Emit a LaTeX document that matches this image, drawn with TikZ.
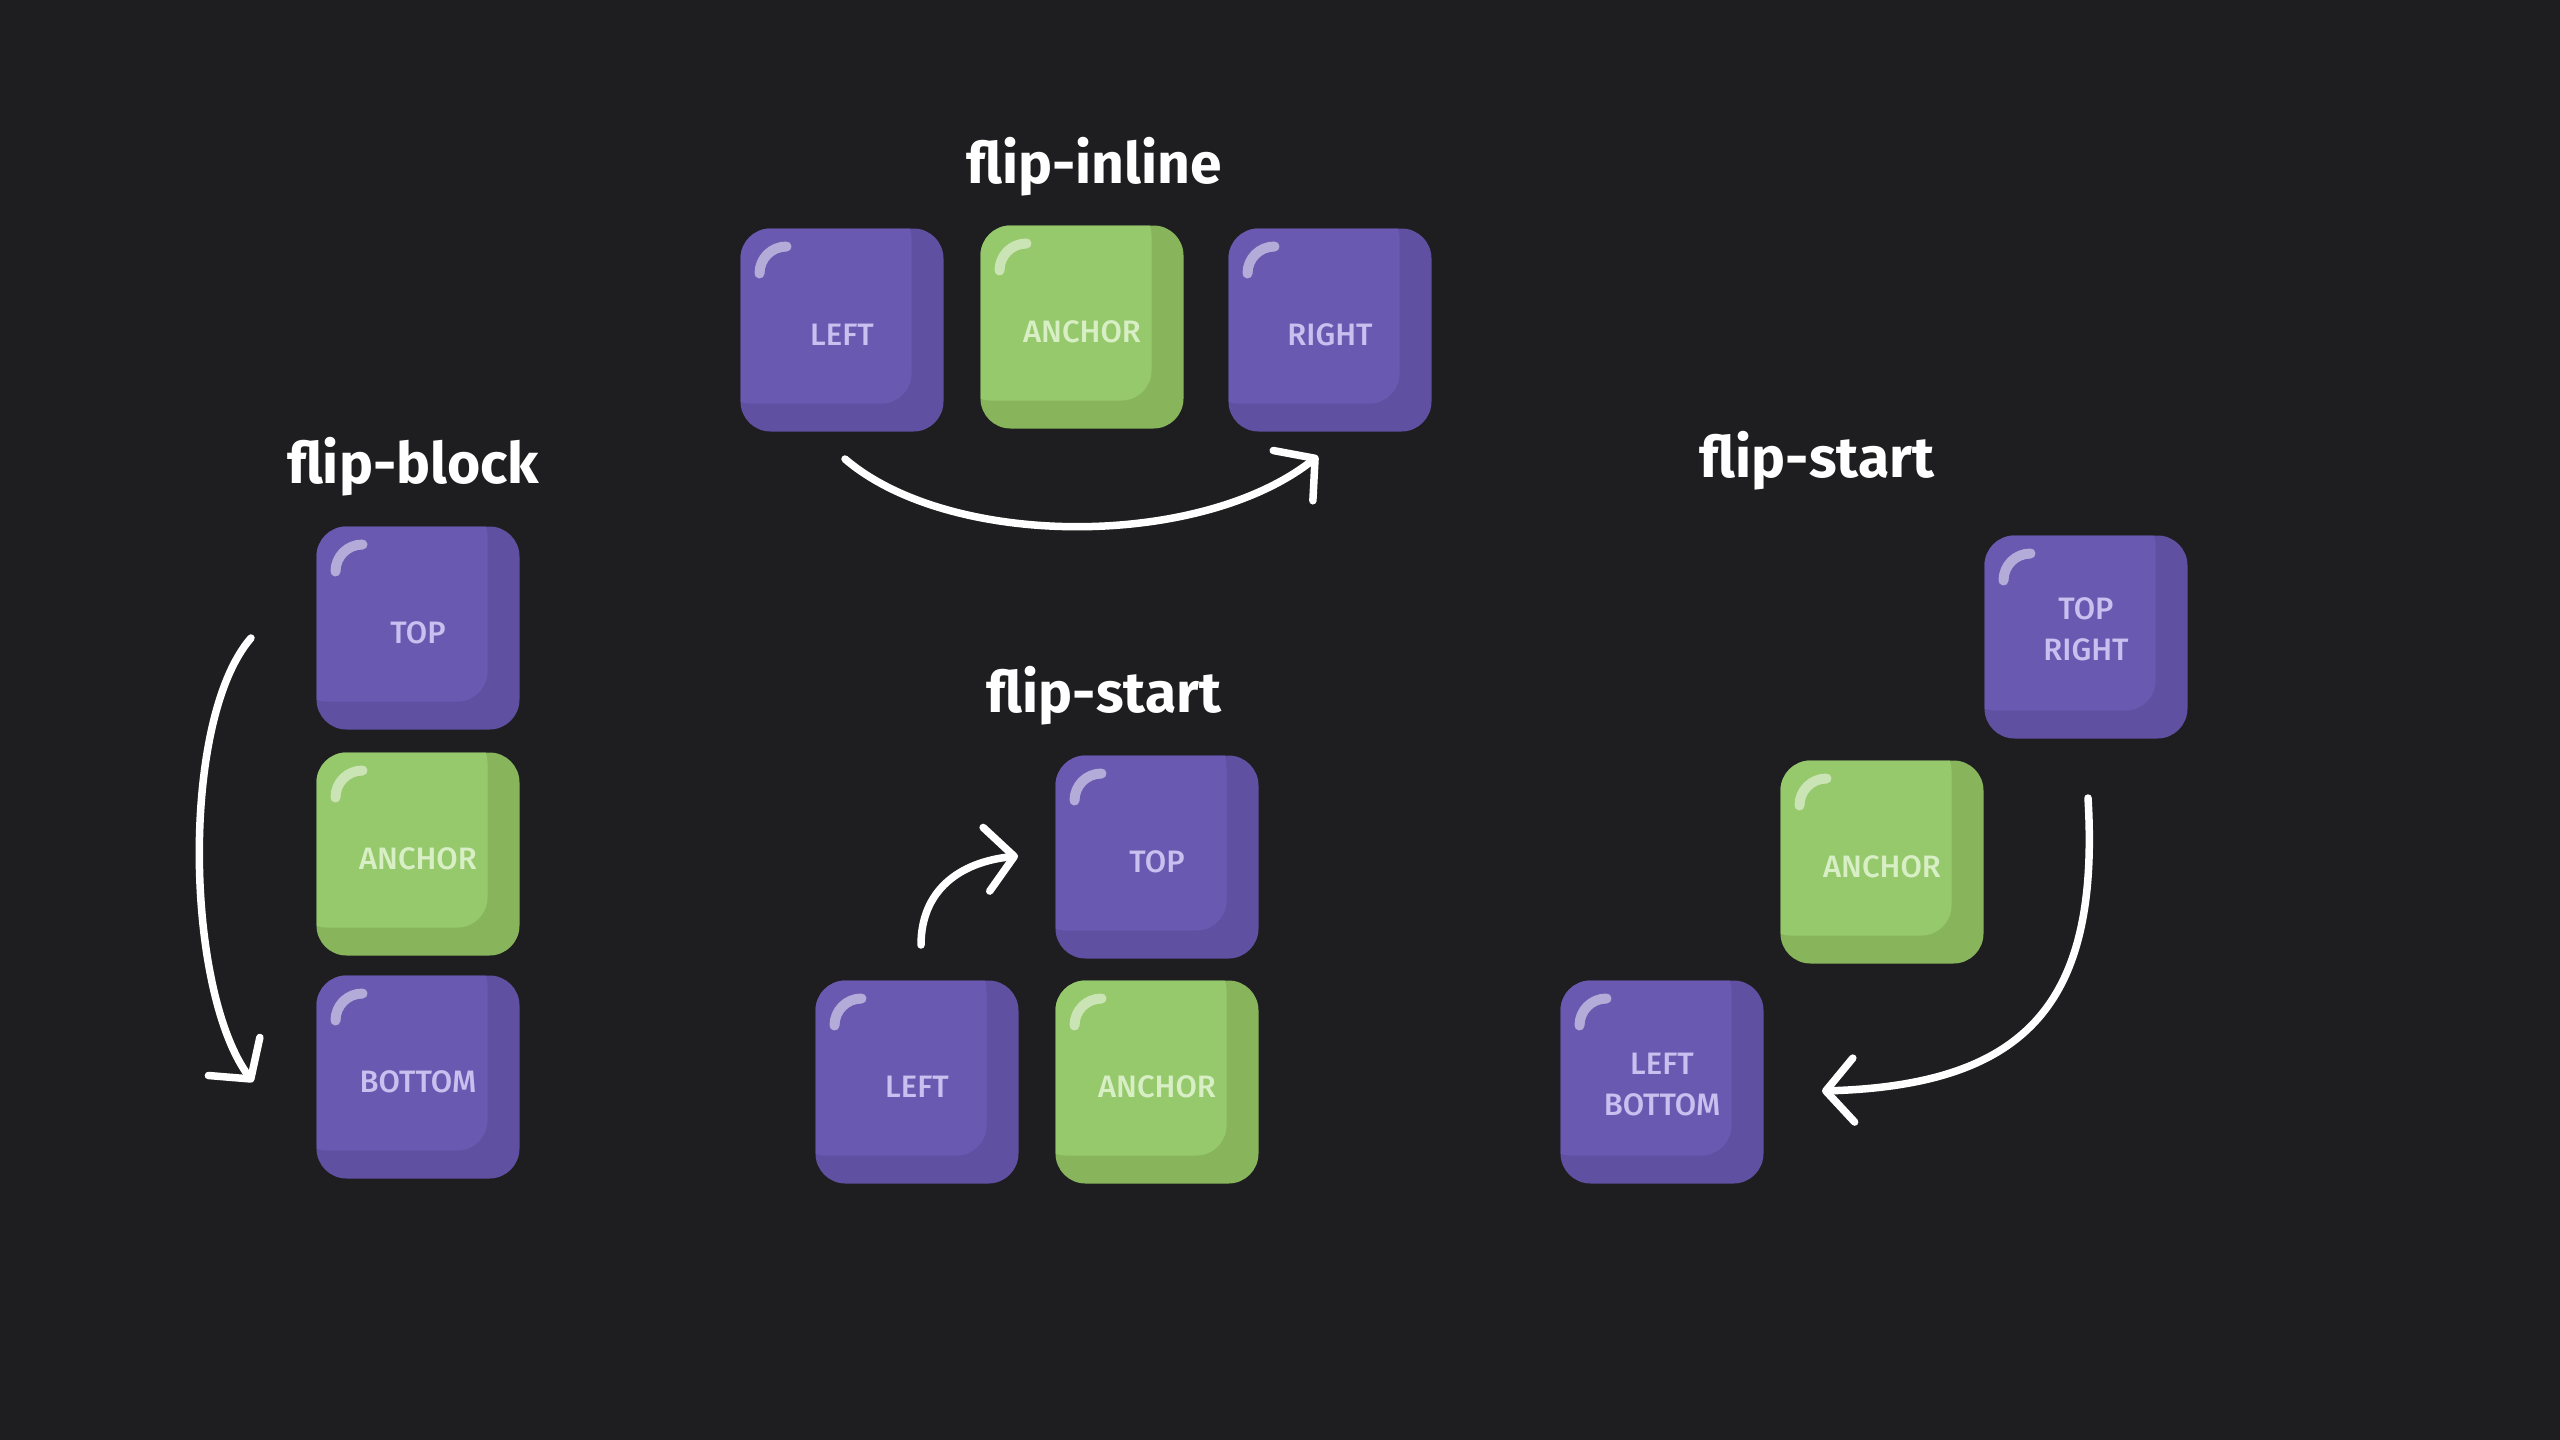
\documentclass[tikz,border=0pt]{standalone}
\usepackage{fontspec}
\usetikzlibrary{arrows.meta}
\newfontfamily\keyfont{Fira Sans Medium}
\newfontfamily\ttlfont{Fira Sans}
\definecolor{bg}{HTML}{1E1E20}
\definecolor{prim}{HTML}{6050A1}
\definecolor{pface}{HTML}{6A59B1}
\definecolor{ptext}{HTML}{CABFEF}
\definecolor{grim}{HTML}{88B55C}
\definecolor{gface}{HTML}{96C96B}
\definecolor{gtext}{HTML}{D8EFC6}
\tikzset{
  key/.style={minimum width=203pt, minimum height=203pt, inner sep=0pt, rounded corners=30pt,
    align=center, font=\keyfont\fontsize{31}{41}\selectfont, text height=30pt, text depth=0pt},
  keyface/.style={path picture={
    \fill[#1, rounded corners=30pt]
      ([xshift=-20pt,yshift=20pt]path picture bounding box.north west) rectangle
      ([xshift=-32pt,yshift=28pt]path picture bounding box.south east);
    \draw[white, opacity=.5, line width=10pt, line cap=round]
      ([xshift=19pt,yshift=-45pt]path picture bounding box.north west) .. controls
      ([xshift=19pt,yshift=-30pt]path picture bounding box.north west) and
      ([xshift=31pt,yshift=-18pt]path picture bounding box.north west) ..
      ([xshift=46pt,yshift=-18pt]path picture bounding box.north west);
  }},
  pkey/.style={key, fill=prim, text=ptext, keyface=pface},
  gkey/.style={key, fill=grim, text=gtext, keyface=gface},
  ttl/.style={text=white, font=\ttlfont\bfseries\fontsize{57}{66}\selectfont, anchor=base, inner sep=0pt},
  arr/.style={draw=white, line width=7.5pt, line cap=round,
    -{Straight Barb[length=28pt,width=64pt,line cap=round,line join=round]}},
}
\begin{document}
\begin{tikzpicture}[x=1pt,y=-1pt]
\fill[bg] (0,0) rectangle (2560,1440);
\useasboundingbox (0,0) rectangle (2560,1440);

% flip-inline
\node[ttl] (t1) at (1094,183) {flip-inline};
\node[pkey] (i1) at (842,330) {LEFT};
\node[gkey] (i2) at (1082,327) {ANCHOR};
\node[pkey] (i3) at (1330,330) {RIGHT};
\coordinate (ia) at (845,459);
\coordinate (ib) at (1318,456);
\draw[arr] (ia) .. controls (950,549) and (1200,549) .. (ib);

% flip-block
\node[ttl] (t2) at (413,483) {flip-block};
\node[pkey] (b1) at (418,628) {TOP};
\node[gkey] (b2) at (418,854) {ANCHOR};
\node[pkey] (b3) at (418,1077) {BOTTOM};
\coordinate (ba) at (251,638);
\coordinate (bb) at (253,1082);
\draw[arr] (ba) .. controls (180,720) and (185,990) .. (bb);

% flip-start (centre)
\node[ttl] (t3) at (1104,712) {flip-start};
\node[pkey] (c1) at (1157,857) {TOP};
\node[pkey] (c2) at (917,1082) {LEFT};
\node[gkey] (c3) at (1157,1082) {ANCHOR};
\coordinate (ca) at (921,945);
\coordinate (cb) at (1018,856);
\draw[arr] (ca) .. controls (921,890) and (960,862) .. (cb);

% flip-start (right)
\node[ttl] (t4) at (1817,477) {flip-start};
\node[pkey, text height=63pt, text depth=16pt] (r1) at (2086,637) {TOP\\RIGHT};
\node[gkey] (r2) at (1882,862) {ANCHOR};
\node[pkey, text height=67pt, text depth=0pt] (r3) at (1662,1082) {LEFT\\BOTTOM};
\coordinate (ra) at (2088,798);
\coordinate (rb) at (1822,1091);
\draw[arr] (ra) .. controls (2100,1000) and (2030,1085) .. (rb);
\end{tikzpicture}
\end{document}
